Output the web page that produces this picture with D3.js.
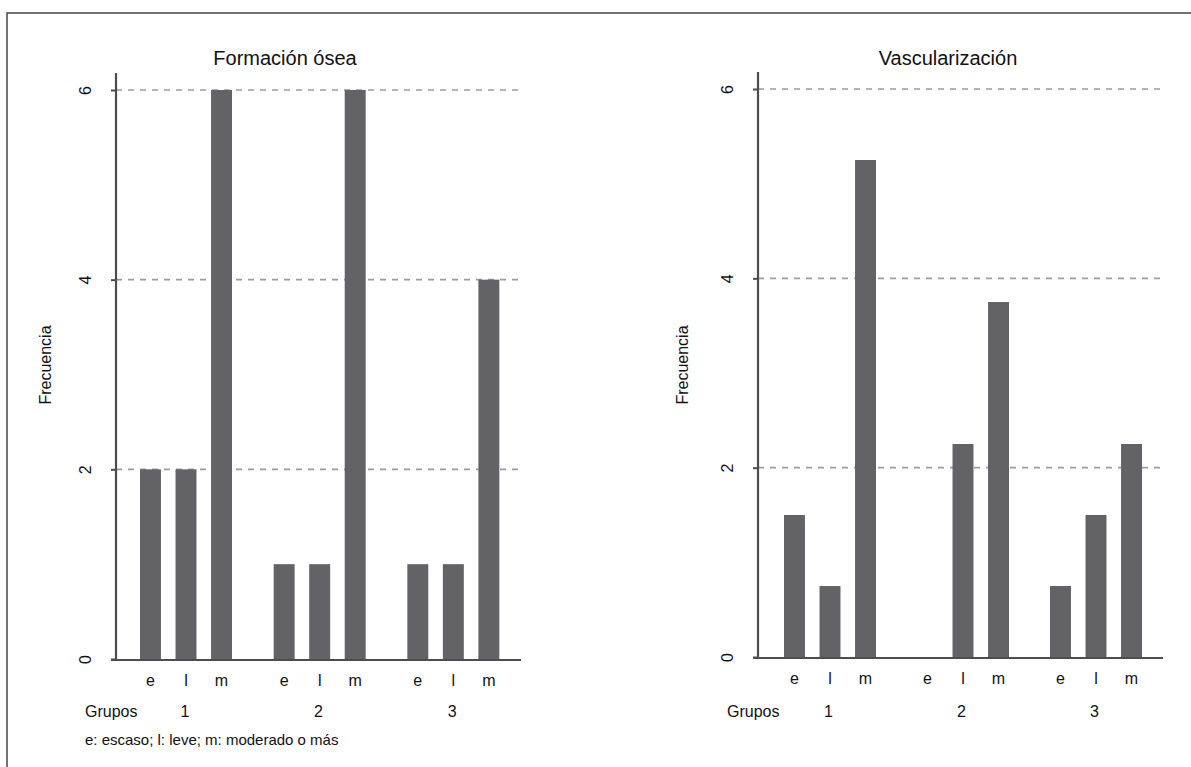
<!DOCTYPE html>
<html>
<head>
<meta charset="utf-8">
<script src="https://cdn.jsdelivr.net/npm/d3@7"></script>
<style>
  body { margin: 0; background: #fff; }
  text { font-family: "Liberation Sans", Arial, sans-serif; fill: #111; }
</style>
</head>
<body>
<div id="chart"></div>
<script>
// data
const groups = ["1", "2", "3"];
const levels = ["e", "l", "m"];
const yTicks = [0, 2, 4, 6];
const boneValues = [2, 2, 6, 1, 1, 6, 1, 1, 4];
const vascValues = [1.5, 0.75, 5.25, 0, 2.25, 3.75, 0.75, 1.5, 2.25];
const panelTitles = ["Formación ósea", "Vascularización"];
const yLabel = "Frecuencia";
const groupLabel = "Grupos";
const footnote = "e: escaso; l: leve; m: moderado o más";

const width = 1191, height = 767;
const barColor = "#636365", axisColor = "#4d4d4d", gridColor = "#9c9c9c";

const svg = d3.select("#chart").append("svg")
    .attr("width", width)
    .attr("height", height);

// outer frame (only top and left edges fall inside the picture)
svg.append("path")
    .attr("d", "M7," + height + "V13H" + width)
    .attr("fill", "none")
    .attr("stroke", "#444")
    .attr("stroke-width", 1.5);

function toRows(values) {
    let rows = [];
    groups.forEach(function (g, i) {
        levels.forEach(function (l, j) {
            rows.push({group: g, level: l, value: values[i * levels.length + j]});
        });
    });
    return rows;
}

function drawPanel(opts) {
    let rows = toRows(opts.values);

    let x0 = d3.scaleBand()
        .domain(groups)
        .range([opts.left, opts.right]);

    let x1 = d3.scaleBand()
        .domain(levels)
        .range([22, 114])
        .paddingInner(0.41)
        .paddingOuter(0);

    let y = d3.scaleLinear()
        .domain([0, 6])
        .range([opts.bottom, opts.top]);

    let g = svg.append("g");

    // dashed gridlines
    g.selectAll(".grid")
        .data(yTicks.filter(d => d > 0))
        .enter().append("line")
        .attr("x1", opts.axisX)
        .attr("x2", opts.right + 2)
        .attr("y1", d => y(d))
        .attr("y2", d => y(d))
        .attr("stroke", gridColor)
        .attr("stroke-width", 1.6)
        .attr("stroke-dasharray", "6,6");

    // bars
    g.selectAll(".bar")
        .data(rows)
        .enter().append("rect")
        .attr("class", "bar")
        .attr("x", d => x0(d.group) + x1(d.level))
        .attr("width", x1.bandwidth())
        .attr("y", d => y(d.value))
        .attr("height", d => y(0) - y(d.value))
        .attr("fill", barColor);

    // y axis
    let yAxis = d3.axisLeft(y)
        .tickValues(yTicks)
        .tickFormat(d3.format("d"))
        .tickSize(5)
        .tickPadding(0);

    let ya = g.append("g")
        .attr("transform", "translate(" + opts.axisX + ",0)")
        .call(yAxis);
    ya.select(".domain").remove();
    ya.selectAll(".tick line")
        .attr("stroke", axisColor)
        .attr("stroke-width", 2);
    ya.selectAll(".tick text")
        .attr("transform", "translate(-31,0) rotate(-90)")
        .attr("x", 0)
        .attr("dy", "0.35em")
        .attr("text-anchor", "middle")
        .style("font-family", "Liberation Sans, Arial, sans-serif")
        .style("font-size", "16px")
        .style("fill", "#111");

    g.append("line")
        .attr("x1", opts.axisX)
        .attr("x2", opts.axisX)
        .attr("y1", y(6) - 17)
        .attr("y2", y(0) + 1)
        .attr("stroke", axisColor)
        .attr("stroke-width", 2.2);

    // x axis line
    g.append("line")
        .attr("x1", opts.axisX - 5)
        .attr("x2", opts.right + 2)
        .attr("y1", y(0) + 1)
        .attr("y2", y(0) + 1)
        .attr("stroke", axisColor)
        .attr("stroke-width", 2.2);

    // level labels under bars
    g.selectAll(".lvl")
        .data(rows)
        .enter().append("text")
        .attr("x", d => x0(d.group) + x1(d.level) + x1.bandwidth() / 2)
        .attr("y", opts.bottom + 27)
        .attr("text-anchor", "middle")
        .style("font-size", "16px")
        .text(d => d.level);

    // group labels
    g.selectAll(".grp")
        .data(groups)
        .enter().append("text")
        .attr("x", d => x0(d) + x0.bandwidth() / 2)
        .attr("y", 717)
        .attr("text-anchor", "middle")
        .style("font-size", "16px")
        .text(d => d);

    g.append("text")
        .attr("x", opts.grupX)
        .attr("y", 717)
        .style("font-size", "16px")
        .text(groupLabel);

    // y label
    g.append("text")
        .attr("transform", "translate(" + opts.yLabelX + "," + 365 + ") rotate(-90)")
        .attr("text-anchor", "middle")
        .style("font-size", "16px")
        .text(yLabel);

    // title
    g.append("text")
        .attr("x", opts.titleX)
        .attr("y", 65)
        .attr("text-anchor", "middle")
        .style("font-size", "20px")
        .text(opts.title);
}

drawPanel({
    values: boneValues, title: panelTitles[0],
    left: 118, right: 519, axisX: 116,
    top: 90, bottom: 659,
    yLabelX: 51, grupX: 85, titleX: 285
});

drawPanel({
    values: vascValues, title: panelTitles[1],
    left: 762, right: 1161, axisX: 758,
    top: 89, bottom: 657,
    yLabelX: 688, grupX: 727, titleX: 948
});

svg.append("text")
    .attr("x", 85)
    .attr("y", 745)
    .style("font-size", "15px")
    .text(footnote);
</script>
</body>
</html>
